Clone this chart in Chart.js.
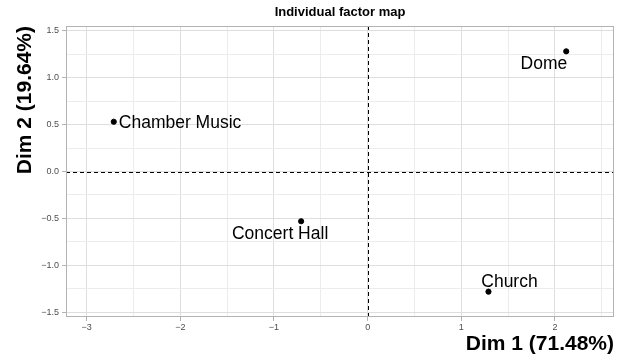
<!DOCTYPE html>
<html lang="en">
<head>
<meta charset="UTF-8">
<title>Individual factor map</title>
<style>
  body { margin: 0; background: #fff; }
  canvas { display: block; }
</style>
</head>
<body>
<canvas id="chart" width="623" height="361"></canvas>
<script src="https://cdn.jsdelivr.net/npm/chart.js"></script>
<script>
// data
const names = ['Chamber Music', 'Dome', 'Concert Hall', 'Church'];
const dim1 = [-2.71, 2.12, -0.71, 1.29];
const dim2 = [0.53, 1.28, -0.53, -1.28];
const xTicks = [-3, -2, -1, 0, 1, 2];
const yTicks = [-1.5, -1.0, -0.5, 0.0, 0.5, 1.0, 1.5];
const xRange = [-3.22, 2.63];
const yRange = [-1.55, 1.55];

// label placement relative to each point (px)
const labelPlace = [
  { dx: 5, dy: 6, align: 'left' },
  { dx: 1, dy: 18, align: 'right' },
  { dx: -21, dy: 18, align: 'center' },
  { dx: 21, dy: -5, align: 'center' }
];

const FONT = '"Liberation Sans", Arial, sans-serif';
const onStep = (v, step) => Math.abs(v / step - Math.round(v / step)) < 1e-6;
const fmt = (v, d) => (v < -1e-9 ? '\u2212' : '') + Math.abs(v).toFixed(d);

function gridColor(majorStep, minorStep) {
  return ctx => {
    const v = ctx.tick.value;
    if (onStep(v, majorStep)) return '#dedede';
    if (onStep(v, minorStep)) return '#ececec';
    return 'rgba(0,0,0,0)';
  };
}
function tickColor(majorStep) {
  return ctx => onStep(ctx.tick.value, majorStep) ? '#b3b3b3' : 'rgba(0,0,0,0)';
}

const decorPlugin = {
  id: 'decor',
  beforeDatasetsDraw(chart) {
    const { ctx, chartArea: a, scales: { x, y } } = chart;
    ctx.save();
    ctx.strokeStyle = '#000';
    ctx.lineWidth = 1;
    ctx.setLineDash([4, 3]);
    const x0 = Math.round(x.getPixelForValue(0)) + 0.5;
    const y0 = Math.round(y.getPixelForValue(0)) + 0.5;
    ctx.beginPath();
    ctx.moveTo(x0, a.top); ctx.lineTo(x0, a.bottom);
    ctx.moveTo(a.left, y0); ctx.lineTo(a.right, y0);
    ctx.stroke();
    ctx.setLineDash([]);
    ctx.strokeStyle = '#b3b3b3';
    ctx.strokeRect(a.left + 0.5, a.top + 0.5, a.right - a.left - 1, a.bottom - a.top - 1);
    ctx.restore();
  },
  afterDraw(chart) {
    const { ctx, chartArea: a } = chart;
    ctx.save();
    ctx.fillStyle = '#000';
    ctx.font = 'bold 13px ' + FONT;
    ctx.textAlign = 'center';
    ctx.textBaseline = 'middle';
    ctx.fillText('Individual factor map', (a.left + a.right) / 2, 12.5);
    const meta = chart.getDatasetMeta(0);
    ctx.font = '17.5px ' + FONT;
    ctx.textBaseline = 'alphabetic';
    meta.data.forEach((pt, i) => {
      const p = labelPlace[i];
      ctx.textAlign = p.align;
      ctx.fillText(names[i], pt.x + p.dx, pt.y + p.dy);
    });
    ctx.restore();
  }
};

new Chart(document.getElementById('chart').getContext('2d'), {
  type: 'scatter',
  data: {
    datasets: [{
      data: dim1.map((v, i) => ({ x: v, y: dim2[i] })),
      backgroundColor: '#000',
      borderColor: '#000',
      pointRadius: 2.6,
      pointHoverRadius: 2.6
    }]
  },
  options: {
    responsive: false,
    animation: false,
    layout: { padding: { top: 26, right: 9, left: 0, bottom: 0 } },
    plugins: { legend: { display: false }, tooltip: { enabled: false }, title: { display: false } },
    scales: {
      x: {
        type: 'linear',
        min: xRange[0],
        max: xRange[1],
        afterFit: s => { s.height = 44; },
        ticks: {
          stepSize: 0.5,
          includeBounds: false,
          autoSkip: false,
          maxRotation: 0,
          padding: 1,
          color: '#4d4d4d',
          font: { family: FONT, size: 9 },
          callback: v => xTicks.some(t => Math.abs(t - v) < 1e-6) ? fmt(v, 0) : ''
        },
        grid: { color: gridColor(1, 0.5), tickColor: tickColor(1), tickLength: 4, lineWidth: 1 },
        border: { display: false },
        title: {
          display: true,
          text: 'Dim 1 (71.48%)',
          align: 'end',
          color: '#000',
          font: { family: FONT, size: 21, weight: 'bold' },
          padding: { top: 0, bottom: 4 }
        }
      },
      y: {
        type: 'linear',
        min: yRange[0],
        max: yRange[1],
        afterFit: s => { s.width = 66; },
        ticks: {
          stepSize: 0.25,
          includeBounds: false,
          autoSkip: false,
          padding: 3,
          color: '#4d4d4d',
          font: { family: FONT, size: 9 },
          callback: v => yTicks.some(t => Math.abs(t - v) < 1e-6) ? fmt(v, 1) : ''
        },
        grid: { color: gridColor(0.5, 0.25), tickColor: tickColor(0.5), tickLength: 4, lineWidth: 1 },
        border: { display: false },
        title: {
          display: true,
          text: 'Dim 2 (19.64%)',
          align: 'end',
          color: '#000',
          font: { family: FONT, size: 21, weight: 'bold' },
          padding: { top: 12.4, bottom: 0 }
        }
      }
    }
  },
  plugins: [decorPlugin]
});
</script>
</body>
</html>
